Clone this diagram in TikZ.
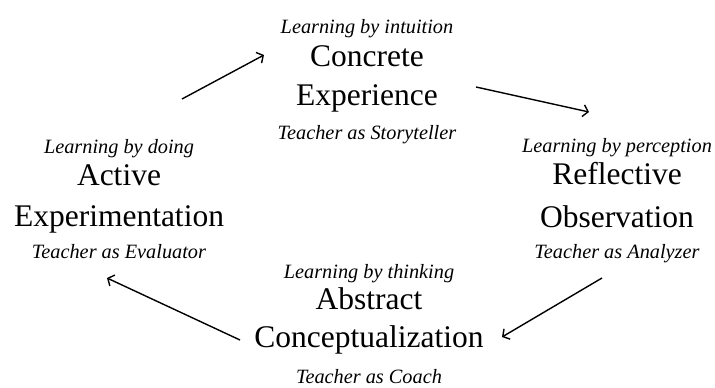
\documentclass[tikz,border=0pt]{standalone}
\usepackage{fontspec}
\setmainfont{Liberation Serif}
\usetikzlibrary{arrows.meta}
\begin{document}
\begin{tikzpicture}[x=1pt,y=-1pt,
  mode/.style={font=\fontsize{20.3}{20.3}\selectfont\itshape,anchor=base,inner sep=0pt},
  stage/.style={font=\fontsize{31.5}{31.5}\selectfont,anchor=base,inner sep=0pt},
  cycle/.style={line width=1.4pt,-{Straight Barb[length=5pt,width=12pt,line width=1.4pt]}}]
\useasboundingbox (0,0) rectangle (715,388);

% Concrete Experience (top)
\node[mode]  (ceL) at (367,33)  {Learning by intuition};
\node[stage] (ce1) at (367,66)  {Concrete};
\node[stage] (ce2) at (367,105) {Experience};
\node[mode]  (ceT) at (367,139) {Teacher as Storyteller};

% Reflective Observation (right)
\node[mode]  (roL) at (617,152) {Learning by perception};
\node[stage] (ro1) at (617,184) {Reflective};
\node[stage] (ro2) at (617,227) {Observation};
\node[mode]  (roT) at (617,258) {Teacher as Analyzer};

% Abstract Conceptualization (bottom)
\node[mode]  (acL) at (369,278) {Learning by thinking};
\node[stage] (ac1) at (369,309) {Abstract};
\node[stage] (ac2) at (369,347) {Conceptualization};
\node[mode]  (acT) at (369,383) {Teacher as Coach};

% Active Experimentation (left)
\node[mode]  (aeL) at (119,153) {Learning by doing};
\node[stage] (ae1) at (119,185) {Active};
\node[stage] (ae2) at (119,226) {Experimentation};
\node[mode]  (aeT) at (119,258) {Teacher as Evaluator};

% arrow end points
\coordinate (a1s) at (182,99);
\coordinate (a1e) at (264,55);
\coordinate (a2s) at (476,87);
\coordinate (a2e) at (589,112);
\coordinate (a3s) at (602,278);
\coordinate (a3e) at (502,337);
\coordinate (a4s) at (240,340);
\coordinate (a4e) at (107,278);

\draw[cycle] (a1s) -- (a1e);
\draw[cycle] (a2s) -- (a2e);
\draw[cycle] (a3s) -- (a3e);
\draw[cycle] (a4s) -- (a4e);
\end{tikzpicture}
\end{document}
